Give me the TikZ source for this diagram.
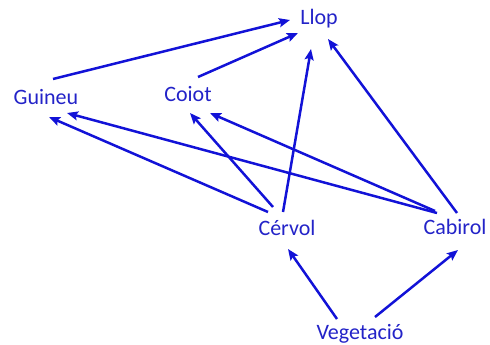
\documentclass[tikz,border=0pt]{standalone}
\usepackage{fontspec}
\setmainfont{Carlito}
\usetikzlibrary{arrows.meta,calc}
\definecolor{lc}{RGB}{18,18,215}
\definecolor{tc}{RGB}{35,35,200}
\tikzset{
  lbl/.style={anchor=base, inner sep=0pt, text=tc, font=\fontsize{22}{26}\selectfont},
  edge/.style={draw=lc, line width=2.5pt, -{Stealth[length=11pt,width=9pt,inset=2pt]}}
}
\begin{document}
\begin{tikzpicture}[x=1pt,y=-1pt]
\useasboundingbox (0,0) rectangle (490,345);
\node[lbl] (llop) at (319,25) {Llop};
\node[lbl] (guineu) at (46,104) {Guineu};
\node[lbl] (coiot) at (188,101) {Coiot};
\node[lbl] (cervol) at (287,235) {Cérvol};
\node[lbl] (cabirol) at (455,234) {Cabirol};
\node[lbl] (veg) at (360,339) {Vegetació};
\draw[edge] ($(guineu.base)+(7,-25)$) -- ($(llop.base)+(-29,-5)$);
\draw[edge] ($(coiot.base)+(10,-24)$) -- ($(llop.base)+(-21,8)$);
\draw[edge] ($(cervol.base)+(-4,-23)$) -- ($(llop.base)+(-8,24)$);
\draw[edge] ($(cabirol.base)+(2,-21)$) -- ($(llop.base)+(9,14)$);
\draw[edge] ($(cervol.base)+(-19,-23)$) -- ($(guineu.base)+(3,13)$);
\draw[edge] ($(cervol.base)+(-14,-28)$) -- ($(coiot.base)+(2,12)$);
\draw[edge] ($(cabirol.base)+(-18,-21)$) -- ($(guineu.base)+(21,9)$);
\draw[edge] ($(cabirol.base)+(-20,-23)$) -- ($(coiot.base)+(22,12)$);
\draw[edge] ($(veg.base)+(-23,-20)$) -- ($(cervol.base)+(1,14)$);
\draw[edge] ($(veg.base)+(15,-22)$) -- ($(cabirol.base)+(3,16)$);
\end{tikzpicture}
\end{document}
